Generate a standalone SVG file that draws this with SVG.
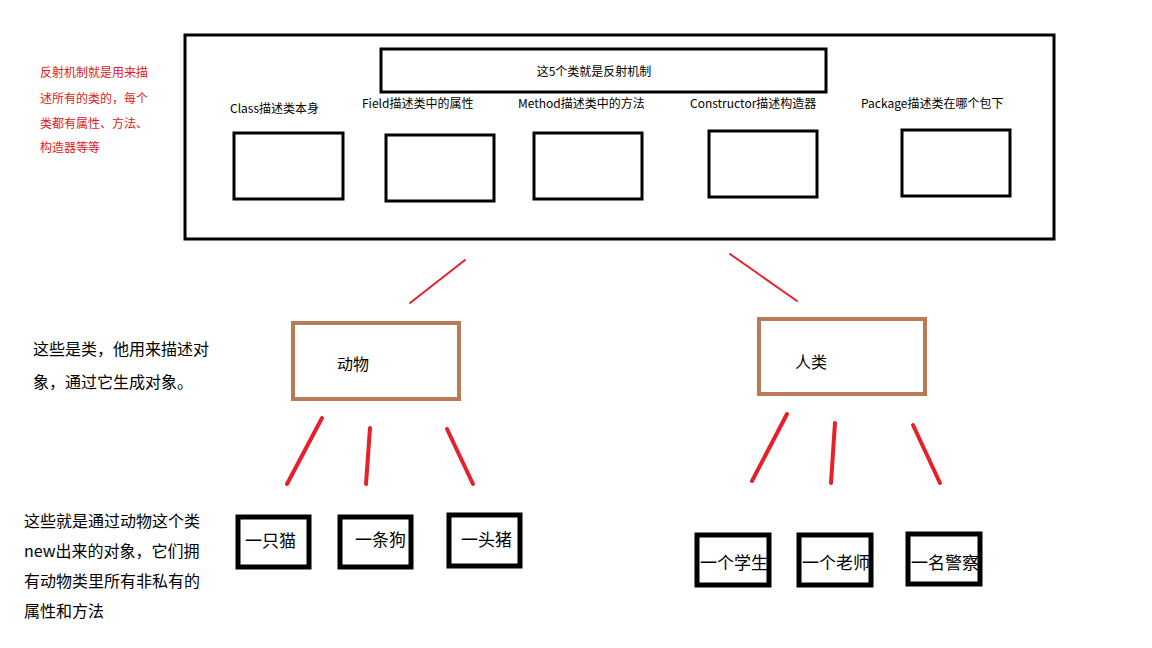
<svg xmlns="http://www.w3.org/2000/svg" width="1152" height="648" viewBox="0 0 1152 648">
<style>
text{font-family:"Noto Sans CJK SC","Liberation Sans",sans-serif;fill:#000}
.b{fill:#fff;stroke:#000;stroke-width:3}
.o{fill:#fff;stroke:#000;stroke-width:5}
.c{fill:#fff;stroke:#b97a57;stroke-width:4}
.s{font-size:12px}
.r{fill:#e02020;font-size:12px}
.m{font-size:16px}
.l{font-size:17px}
.t{stroke:#e8202a;stroke-linecap:round;fill:none}
</style>
<rect width="1152" height="648" fill="#fff"/>
<g id="outer"><rect class="b" x="185" y="35" width="869" height="204"/></g>
<g id="title"><rect class="b" x="381" y="49" width="445" height="43"/><text class="s" x="594" y="76" text-anchor="middle">这5个类就是反射机制</text></g>
<g id="class"><text class="s" x="230" y="113">Class描述类本身</text><rect class="b" x="234" y="133" width="109" height="66"/></g>
<g id="field"><text class="s" x="362" y="108">Field描述类中的属性</text><rect class="b" x="386" y="135" width="108" height="66"/></g>
<g id="method"><text class="s" x="518" y="108">Method描述类中的方法</text><rect class="b" x="534" y="133" width="108" height="66"/></g>
<g id="constructor"><text class="s" x="690" y="108">Constructor描述构造器</text><rect class="b" x="709" y="131" width="108" height="66"/></g>
<g id="package"><text class="s" x="861" y="108">Package描述类在哪个包下</text><rect class="b" x="902" y="130" width="108" height="66"/></g>
<g id="note1"><text class="r" x="40" y="77">反射机制就是用来描</text><text class="r" x="40" y="103">述所有的类的，每个</text><text class="r" x="40" y="128">类都有属性、方法、</text><text class="r" x="40" y="152">构造器等等</text></g>
<g id="animal"><rect class="c" x="293" y="323" width="166" height="76"/><text class="m" x="337" y="370">动物</text></g>
<g id="human"><rect class="c" x="759" y="319" width="166" height="75"/><text class="m" x="795" y="368">人类</text></g>
<g id="note2"><text class="m" x="33" y="355">这些是类，他用来描述对</text><text class="m" x="33" y="388">象，通过它生成对象。</text></g>
<g id="note3"><text class="m" x="24" y="527">这些就是通过动物这个类</text><text class="m" x="24" y="557">new出来的对象，它们拥</text><text class="m" x="24" y="587">有动物类里所有非私有的</text><text class="m" x="24" y="617">属性和方法</text></g>
<g id="cat"><rect class="o" x="238" y="517" width="71" height="50"/><text class="l" x="245" y="547">一只猫</text></g>
<g id="dog"><rect class="o" x="340" y="517" width="71" height="50"/><text class="l" x="355" y="546">一条狗</text></g>
<g id="pig"><rect class="o" x="449" y="515" width="71" height="51"/><text class="l" x="461" y="546">一头猪</text></g>
<g id="student"><rect class="o" x="697" y="535" width="72" height="50"/><text class="l" x="700" y="569">一个学生</text></g>
<g id="teacher"><rect class="o" x="799" y="535" width="72" height="50"/><text class="l" x="802" y="569">一个老师</text></g>
<g id="police"><rect class="o" x="908" y="534" width="72" height="50"/><text class="l" x="911" y="569">一名警察</text></g>
<g id="connectors">
<line class="t" stroke-width="2" x1="465" y1="260" x2="410" y2="303"/>
<line class="t" stroke-width="2" x1="730" y1="254" x2="797" y2="301"/>
<line class="t" stroke-width="4" x1="322" y1="418" x2="287" y2="484"/>
<line class="t" stroke-width="4" x1="370" y1="428" x2="366" y2="484"/>
<line class="t" stroke-width="4" x1="447" y1="429" x2="473" y2="484"/>
<line class="t" stroke-width="4" x1="787" y1="414" x2="752" y2="481"/>
<line class="t" stroke-width="4" x1="835" y1="423" x2="831" y2="483"/>
<line class="t" stroke-width="4" x1="913" y1="425" x2="940" y2="483"/>
</g>
</svg>
